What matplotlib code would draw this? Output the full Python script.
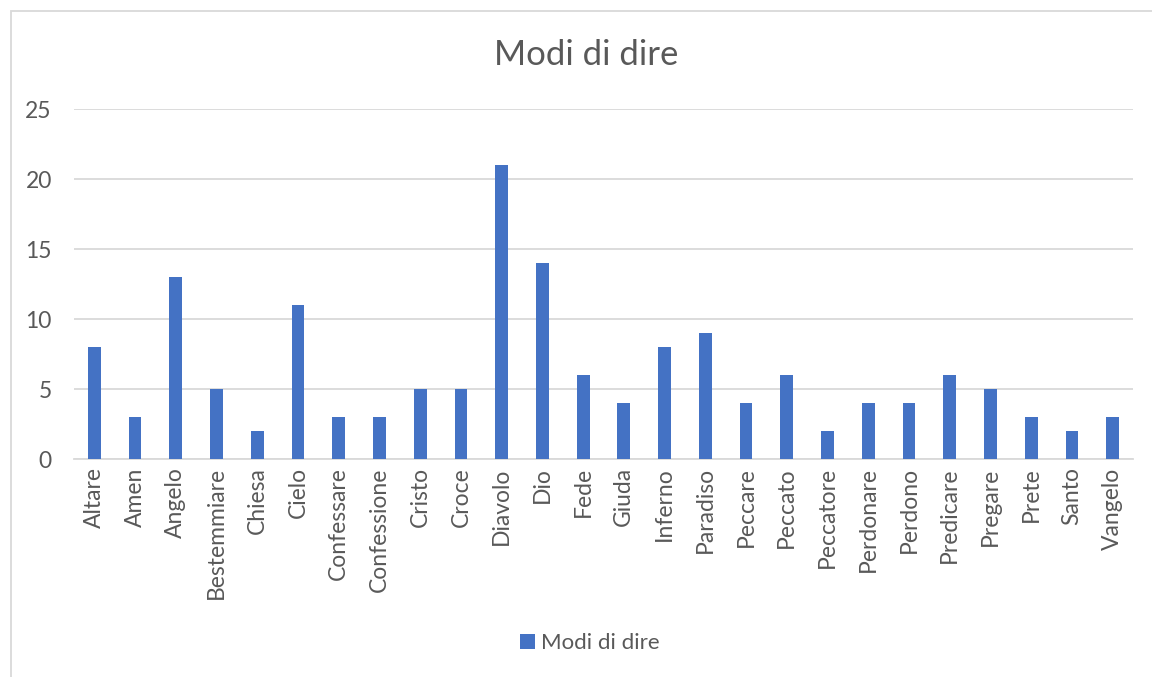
import matplotlib.pyplot as plt
from matplotlib.patches import Rectangle

plt.rcParams['font.family'] = ['Lato', 'DejaVu Sans']

categories = ['Altare', 'Amen', 'Angelo', 'Bestemmiare', 'Chiesa', 'Cielo',
              'Confessare', 'Confessione', 'Cristo', 'Croce', 'Diavolo', 'Dio',
              'Fede', 'Giuda', 'Inferno', 'Paradiso', 'Peccare', 'Peccato',
              'Peccatore', 'Perdonare', 'Perdono', 'Predicare', 'Pregare',
              'Prete', 'Santo', 'Vangelo']
values = [8, 3, 13, 5, 2, 11, 3, 3, 5, 5, 21, 14, 6, 4, 8, 9, 4, 6, 2, 4, 4,
          6, 5, 3, 2, 3]
y_ticks = [0, 5, 10, 15, 20, 25]
series_name = 'Modi di dire'

text_col = '#595959'
grid_col = '#D9D9D9'

fig = plt.figure(figsize=(11.52, 6.77), dpi=100)
ax = fig.add_axes([74 / 1152, 1 - 459 / 677, (1133 - 74) / 1152, 350 / 677])

x = range(len(categories))
bars = ax.bar(x, values, width=0.313, color='#4472C4', label=series_name, zorder=3)

ax.set_xlim(-0.5, len(categories) - 0.5)
ax.set_ylim(0, 25)
ax.set_yticks(y_ticks)
ax.set_xticks(list(x))
ax.set_xticklabels(categories, rotation=90)
ax.yaxis.grid(True, color=grid_col, linewidth=1.3, zorder=0)
ax.tick_params(axis='both', length=0, labelsize=16.5, labelcolor=text_col)
ax.tick_params(axis='y', pad=16)
ax.tick_params(axis='x', pad=6)
for s in ['top', 'right', 'left']:
    ax.spines[s].set_visible(False)
ax.spines['bottom'].set_color(grid_col)
ax.spines['bottom'].set_linewidth(1.3)

fig.text(586 / 1152, 1 - 55 / 677, 'Modi di dire', ha='center', va='center',
         fontsize=25, color=text_col)

fig.legend(handles=[bars], labels=[series_name], loc='center',
           bbox_to_anchor=(590 / 1152, 1 - 643 / 677), frameon=False, fontsize=16,
           handlelength=0.65, handleheight=0.65, handletextpad=0.3,
           labelcolor=text_col)

# outer chart border (right and bottom edges fall outside the picture)
fig.add_artist(Rectangle((10.5 / 1152, -0.1), 1.2, 1 - 10.5 / 677 + 0.1,
                         transform=fig.transFigure, fill=False,
                         edgecolor=grid_col, linewidth=1.3))

fig.savefig('out.png', dpi=100)
